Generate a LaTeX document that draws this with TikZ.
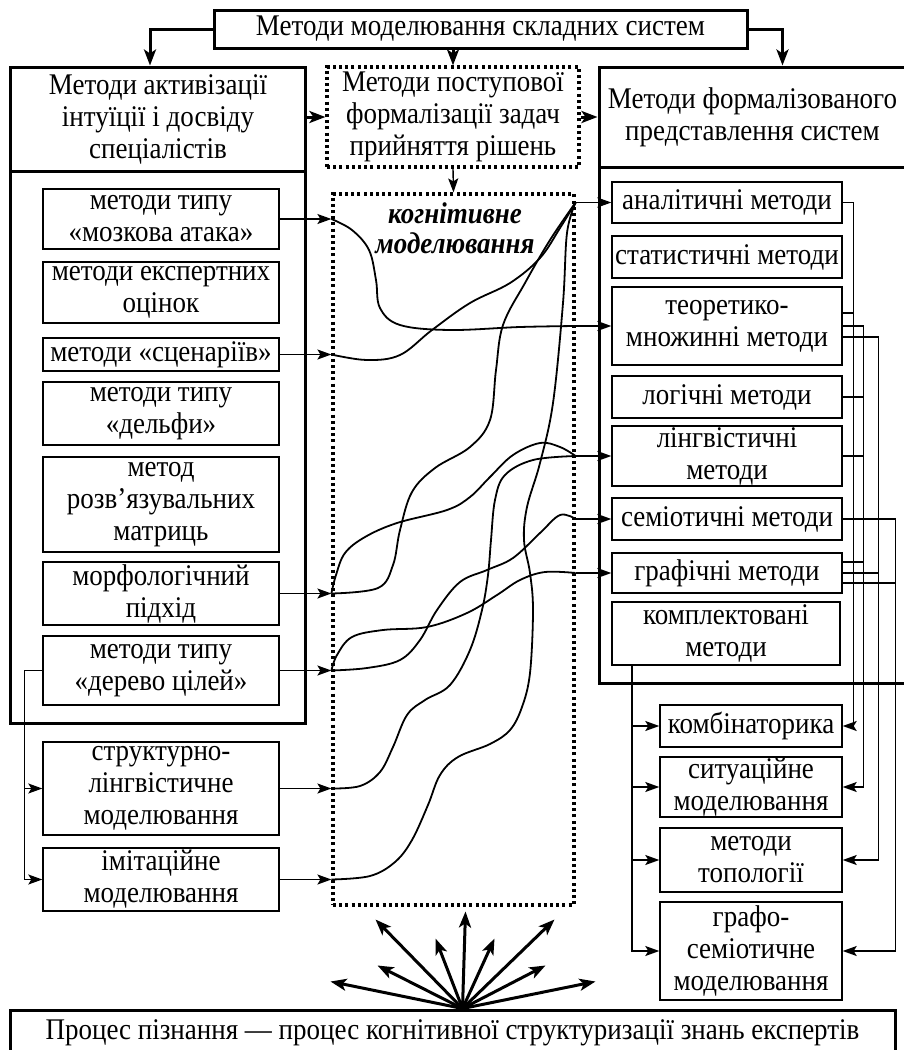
\documentclass[tikz,border=0pt]{standalone}
\usepackage{fontspec}
\setmainfont{Liberation Serif}[FakeStretch=0.9]
\usetikzlibrary{arrows.meta}

\tikzset{
  ibox/.style={draw, line width=1.4pt, align=center, inner sep=0pt},
  bigbox/.style={draw, line width=3pt, align=center, inner sep=0pt},
  dotbox/.style={draw, line width=3.2pt, dash pattern=on 3pt off 3.2pt, align=center, inner sep=0pt},
  lm/.style={ibox, minimum width=236pt},
  rm/.style={ibox, minimum width=230pt},
  sm/.style={ibox, minimum width=182pt},
  arr/.style={line width=1.4pt, -{Stealth[length=14pt,width=10pt,inset=3pt]}},
  tarr/.style={line width=3pt, -{Stealth[length=16pt,width=12pt,inset=4pt]}},
  wire/.style={line width=1.4pt},
  cline/.style={line width=1.8pt},
}

\begin{document}
\begin{tikzpicture}[x=1pt,y=-1pt,font=\fontsize{30}{32}\selectfont]
\useasboundingbox (0,0) rectangle (904,1050);
\fill[white] (0,0) rectangle (904,1050);
\clip (0,0) rectangle (904,1050);

% top row
\node[bigbox, minimum width=533pt, minimum height=38pt] (top) at (480.5,29) {Методи моделювання складних систем};
\node[bigbox, minimum width=295pt, minimum height=104pt] (lh) at (158,119) {Методи активізації\\інтуїції і досвіду\\спеціалістів};
\node[bigbox, minimum width=295pt, minimum height=552pt] (lb) at (158,447) {};
\node[dotbox, minimum width=252pt, minimum height=100pt] (dh) at (453,117) {Методи поступової\\формалізації задач\\прийняття рішень};
\node[bigbox, minimum width=307pt, minimum height=100pt] (rhd) at (752.5,117) {Методи формалізованого\\представлення систем};
\node[bigbox, minimum width=307pt, minimum height=516pt] (rbd) at (752.5,425) {};

% cognitive modelling
\node[dotbox, minimum width=241pt, minimum height=711pt] (cog) at (453.5,549.5) {};
\node[font=\fontsize{30}{30}\selectfont\bfseries\itshape, align=center] (cogt) at (455,228) {когнітивне\\моделювання};

% left methods
\node[lm, minimum height=60pt] (m1) at (161,219) {методи типу\\«мозкова атака»};
\node[lm, minimum height=61pt] (m2) at (161,292.5) {методи експертних\\оцінок};
\node[lm, minimum height=33pt] (m3) at (161,354.5) {методи «сценаріїв»};
\node[lm, minimum height=63pt] (m4) at (161,413.5) {методи типу\\«дельфи»};
\node[lm, minimum height=95pt] (m5) at (161,504.5) {метод\\розв’язувальних\\матриць};
\node[lm, minimum height=63pt] (m6) at (161,593.5) {морфологічний\\підхід};
\node[lm, minimum height=69pt] (m7) at (161,670.5) {методи типу\\«дерево цілей»};
\node[lm, minimum height=93pt] (m8) at (161,788.5) {структурно-\\лінгвістичне\\моделювання};
\node[lm, minimum height=63pt] (m9) at (161,879.5) {імітаційне\\моделювання};

% right methods
\node[rm, minimum height=41pt] (ra) at (727,202.5) {аналітичні методи};
\node[rm, minimum height=42pt] (rb) at (727,257) {статистичні методи};
\node[rm, minimum height=78pt] (rc) at (727,326) {теоретико-\\множинні методи};
\node[rm, minimum height=42pt] (rd) at (727,397) {логічні методи};
\node[rm, minimum height=60pt] (re) at (727,456) {лінгвістичні\\методи};
\node[rm, minimum height=42pt] (rf) at (727,519) {семіотичні методи};
\node[rm, minimum height=40pt] (rg) at (727,573) {графічні методи};
\node[rm, minimum width=228pt, minimum height=63pt] (rh) at (726,633.5) {комплектовані\\методи};
\node[sm, minimum height=42pt] (ri) at (751,726) {комбінаторика};
\node[sm, minimum height=60pt] (rj) at (751,787) {ситуаційне\\моделювання};
\node[sm, minimum height=64pt] (rk) at (751,860) {методи\\топології};
\node[sm, minimum height=98pt] (rl) at (751,951) {графо-\\семіотичне\\моделювання};

% bottom
\node[bigbox, minimum width=885pt, minimum height=46pt] (bot) at (452.5,1033) {Процес пізнання — процес когнітивної структуризації знань експертів};

% main arrows
\draw[tarr] (top.west) -| ([xshift=-8pt]lh.north);
\draw[tarr] (top.east) -| ([xshift=30pt]rhd.north);
\draw[tarr] (dh.north |- top.south) -- (dh.north);
\draw[tarr] (dh.west -| lh.east) -- (dh.west);
\draw[tarr] (dh.east) -- (dh.east -| rhd.west);
\draw[arr] (dh.south) -- (cog.north);

% into and out of cognitive box
\foreach \m/\c in {m1/cl1, m3/cl2, m6/cl3, m7/cl4, m8/cl5, m9/cl6}{
  \coordinate (\c) at (\m.east -| cog.west);
  \draw[arr] (\m.east) -- (\c);
}
\foreach \r/\c in {ra/cr1, rc/cr2, re/cr3, rf/cr4, rg/cr5}{
  \coordinate (\c) at (\r.west -| cog.east);
  \draw[arr] (\c) -- (\r.west);
}

% curves
\draw[cline] plot[smooth, tension=0.6] coordinates {(cl1) (352,230) (369,250) (376,280) (380,308) (400,325) (450,330) (520,327) (cr2)};
\draw[cline] plot[smooth, tension=0.6] coordinates {(cl2) (367,360) (400,355) (432,330) (470,303) (510,283) (540,258) (560,228) (cr1)};
\draw[cline] plot[smooth, tension=0.6] coordinates {(cr1) (550,240) (525,283) (503,325) (496,370) (490,420) (470,447) (435,468) (412,492) (400,530) (393,565) (378,588) (cl3)};
\draw[cline] plot[smooth, tension=0.6] coordinates {(cr1) (567,233) (563,303) (553,403) (540,463) (527,507) (524,540) (530,573) (533,610) (530,673) (522,707) (510,730) (490,744) (458,757) (440,775) (428,805) (412,840) (395,862) (370,876) (cl6)};
\draw[cline] plot[smooth, tension=0.6] coordinates {(cr3) (533,460) (505,475) (495,500) (491,540) (488,575) (482,610) (470,650) (450,685) (425,700) (407,715) (393,747) (380,772) (360,786) (cl5)};
\draw[cline] plot[smooth, tension=0.6] coordinates {(cl3) (336,575) (345,553) (365,537) (397,523) (447,510) (470,497) (490,477) (513,455) (540,443) (560,447) (cr3)};
\draw[cline] plot[smooth, tension=0.6] coordinates {(cl4) (367,668) (400,660) (420,640) (437,610) (460,582) (487,570) (513,558) (540,533) (560,515) (cr4)};
\draw[cline] plot[smooth, tension=0.6] coordinates {(cl4) (337,655) (352,637) (383,630) (427,627) (467,613) (497,595) (520,580) (545,572) (cr5)};

% tree of goals down to lower boxes
\coordinate (dl) at ([xshift=-18pt]m7.west);
\draw[wire] (m7.west) -- (dl);
\draw[arr] (dl) |- (m9.west);
\draw[arr] (dl |- m8.west) -- (m8.west);

% complex methods down to lower right boxes
\coordinate (kb) at ([xshift=-94pt]rh.south);
\draw[arr] (kb) |- (rl.west);
\foreach \b in {ri,rj,rk}
  \draw[arr] (kb |- \b.west) -- (\b.west);

% right wiring
\draw[arr] (ra.east) -- ++(11,0) |- (ri.east);
\draw[wire] ([yshift=13pt]rc.east) -- ++(11,0);
\draw[arr] (rc.east) -- ++(21,0) |- (rj.east);
\draw[arr] ([yshift=-11pt]rc.east) -- ++(36,0) |- (rk.east);
\draw[wire] (rd.east) -- ++(21,0);
\draw[wire] (re.east) -- ++(21,0);
\draw[arr] (rf.east) -- ++(53,0) |- (rl.east);
\draw[wire] ([yshift=11pt]rg.east) -- ++(21,0);
\draw[wire] (rg.east) -- ++(36,0);
\draw[wire] ([yshift=-10pt]rg.east) -- ++(53,0);

% fan of arrows
\coordinate (fan) at ([xshift=10pt]bot.north);
\foreach \dx/\dy in {-132/-27, -85/-43, -87/-89, -27/-70, 3/-97, 32/-70, 92/-89, 83/-43, 133/-27}
  \draw[tarr] (fan) -- ++(\dx,\dy);
\end{tikzpicture}
\end{document}
